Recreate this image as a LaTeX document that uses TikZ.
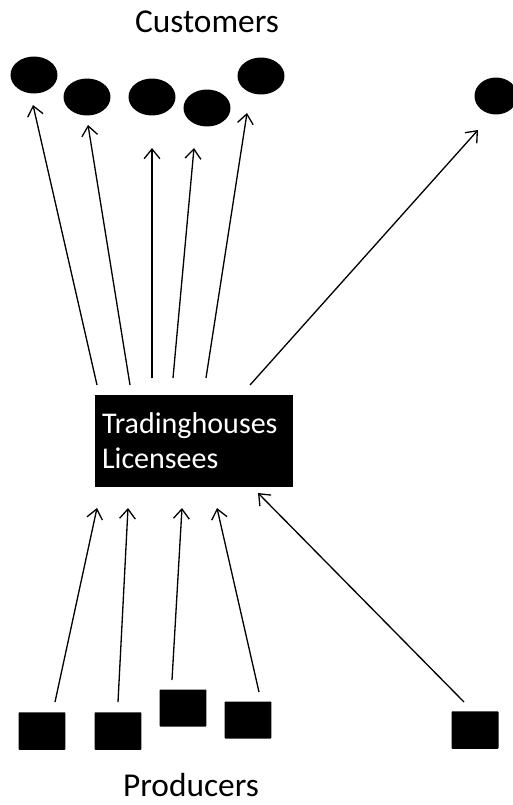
\documentclass[tikz,border=0pt]{standalone}
\usepackage{fontspec}
\setmainfont{Carlito}
\usetikzlibrary{shapes.geometric,arrows.meta}
\begin{document}
\begin{tikzpicture}[x=0.02cm,y=-0.02cm,
  cust/.style={ellipse,fill=black,inner sep=0pt,minimum width=0.94cm,minimum height=0.74cm},
  prod/.style={rectangle,fill=black,inner sep=0pt,minimum width=0.94cm,minimum height=0.75cm,rounded corners=0.5pt},
  flow/.style={line width=0.75pt,-{Straight Barb[length=5.5pt,width=9pt,line width=0.75pt]}},
  title/.style={font=\fontsize{19}{23}\selectfont}]
\useasboundingbox (0,0) rectangle (513,805);
\node[title] (cust) at (207,22) {Customers};
\node[title] (prodt) at (191,785) {Producers};
\node[cust] (e1) at (34,75) {};
\node[cust] (e2) at (87,97) {};
\node[cust] (e3) at (152,97) {};
\node[cust] (e4) at (207,108) {};
\node[cust] (e5) at (261,76) {};
\node[cust,minimum width=0.86cm] (e6) at (496,96) {};
\node[fill=black,text=white,minimum width=3.96cm,minimum height=1.84cm,inner xsep=0.14cm,
  text width=3.68cm,align=left,font=\fontsize{17.1}{20}\selectfont] (th) at (194,441)
  {Tradinghouses\\Licensees};
\node[prod] (s1) at (42,731) {};
\node[prod] (s2) at (118,731) {};
\node[prod,minimum height=0.74cm] (s3) at (183,708) {};
\node[prod,minimum height=0.74cm] (s4) at (248,720) {};
\node[prod] (s5) at (475,730) {};
% top arrow endpoints
\coordinate (a1s) at (97,385);  \coordinate (a1e) at (33,105);
\coordinate (a2s) at (130,385); \coordinate (a2e) at (88,125);
\coordinate (a3s) at (152,378); \coordinate (a3e) at (152,148);
\coordinate (a4s) at (173,378); \coordinate (a4e) at (194,148);
\coordinate (a5s) at (206,378); \coordinate (a5e) at (247,113);
\coordinate (a6s) at (250,385); \coordinate (a6e) at (478,130);
% bottom arrow endpoints
\coordinate (b1s) at (55,702);  \coordinate (b1e) at (97,508);
\coordinate (b2s) at (118,702); \coordinate (b2e) at (128,508);
\coordinate (b3s) at (172,680); \coordinate (b3e) at (182,508);
\coordinate (b4s) at (259,692); \coordinate (b4e) at (217,508);
\coordinate (b5s) at (464,702); \coordinate (b5e) at (258,493);
\foreach \i in {1,...,6} \draw[flow] (a\i s) -- (a\i e);
\foreach \i in {1,...,5} \draw[flow] (b\i s) -- (b\i e);
\end{tikzpicture}
\end{document}
